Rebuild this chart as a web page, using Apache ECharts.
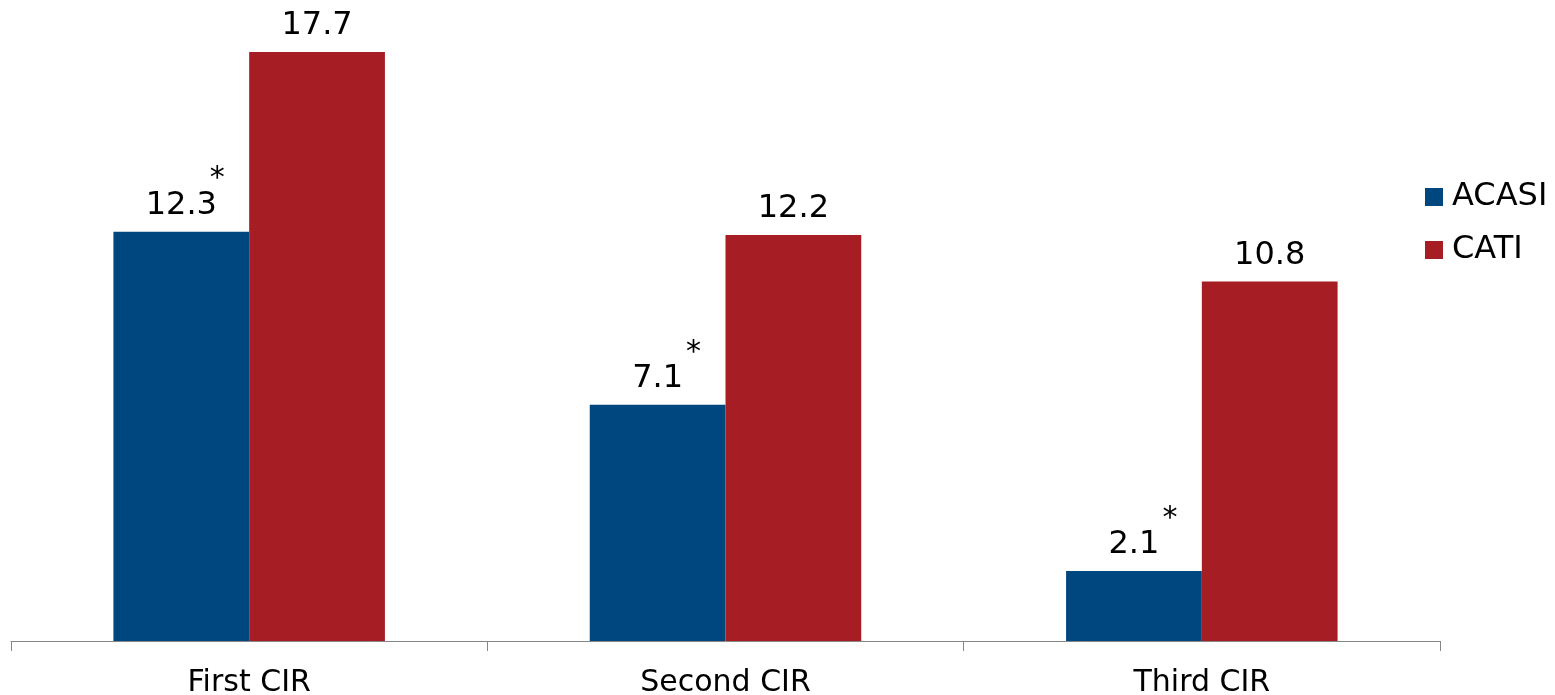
<!DOCTYPE html>
<html>
<head>
<meta charset="utf-8">
<script src="https://cdn.jsdelivr.net/npm/echarts@6/dist/echarts.min.js"></script>
<style>
  html, body { margin: 0; padding: 0; background: #ffffff; }
  #chart { width: 1555px; height: 695px; }
</style>
</head>
<body>
<div id="chart"></div>
<script>
// Percent reporting by interview round and survey mode
const categories = ['First CIR', 'Second CIR', 'Third CIR'];
const acasi = [12.3, 7.1, 2.1];
const cati = [17.7, 12.2, 10.8];
// Marks ACASI values that differ significantly from CATI
const acasiSignificant = [true, true, true];

const FONT = 'DejaVu Sans, Verdana, sans-serif';
const BLUE = '#00477F';
const RED = '#A61D24';

const valueLabel = {
  show: true,
  position: 'top',
  distance: 10,
  color: '#000000',
  fontFamily: FONT,
  fontSize: 32
};

const chart = echarts.init(document.getElementById('chart'), null, { renderer: 'canvas' });

chart.setOption({
  animation: false,
  backgroundColor: '#ffffff',
  grid: {
    left: 11, right: 115, top: 42, bottom: 54,
    containLabel: false,
    outerBoundsMode: 'none'
  },
  legend: {
    orient: 'vertical',
    left: 1420,
    top: 176,
    itemWidth: 18,
    itemHeight: 18,
    itemGap: 21,
    icon: 'rect',
    textStyle: { fontFamily: FONT, fontSize: 32, color: '#000000', padding: [0, 0, 0, 4] },
    data: ['ACASI', 'CATI']
  },
  xAxis: {
    type: 'category',
    data: categories,
    axisLine: { lineStyle: { color: '#868686', width: 1 } },
    axisTick: { show: true, length: 10, lineStyle: { color: '#868686' } },
    axisLabel: { color: '#000000', fontFamily: FONT, fontSize: 30, margin: 27 }
  },
  yAxis: {
    type: 'value',
    min: 0,
    max: 18,
    show: false,
    splitLine: { show: false }
  },
  series: [
    {
      name: 'ACASI',
      type: 'bar',
      data: acasi,
      barGap: '0%',
      barCategoryGap: '43%',
      itemStyle: { color: BLUE },
      label: valueLabel,
      markPoint: {
        symbol: 'circle',
        symbolSize: 0,
        silent: true,
        label: {
          show: true,
          position: 'inside',
          formatter: '*',
          offset: [36, -52],
          color: '#000000',
          fontFamily: FONT,
          fontSize: 30
        },
        data: acasi
          .map((v, i) => (acasiSignificant[i] ? { coord: [i, v] } : null))
          .filter(Boolean)
      }
    },
    {
      name: 'CATI',
      type: 'bar',
      data: cati,
      barGap: '0%',
      barCategoryGap: '43%',
      itemStyle: { color: RED },
      label: valueLabel
    }
  ]
});
</script>
</body>
</html>
